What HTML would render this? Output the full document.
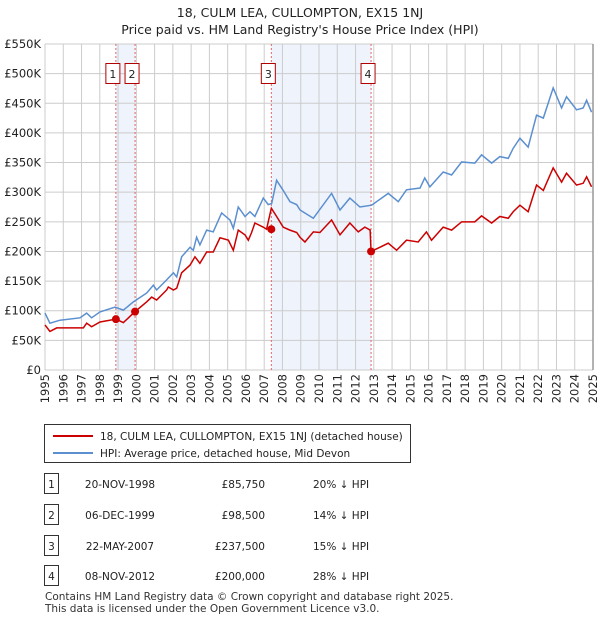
<!DOCTYPE html>
<html><head><meta charset="utf-8"><style>
body{margin:0;background:#fff;font-family:"Liberation Sans","DejaVu Sans",sans-serif;}
svg text{font-family:"DejaVu Sans","Liberation Sans",sans-serif;}
</style></head><body>
<svg id="c" width="600" height="620" viewBox="0 0 600 620" xmlns="http://www.w3.org/2000/svg">
<text x="300" y="17" text-anchor="middle" font-size="12.5" fill="#222">18, CULM LEA, CULLOMPTON, EX15 1NJ</text>
<text x="300" y="34" text-anchor="middle" font-size="12.5" fill="#222">Price paid vs. HM Land Registry's House Price Index (HPI)</text>
<g id="plot"></g>
<g>
<rect x="44.5" y="424.5" width="366" height="38" fill="#fff" stroke="#333"/>
<line x1="53" y1="436" x2="93" y2="436" stroke="#cc0000" stroke-width="2"/>
<text x="100" y="440" font-size="10.5" fill="#222">18, CULM LEA, CULLOMPTON, EX15 1NJ (detached house)</text>
<line x1="53" y1="453" x2="93" y2="453" stroke="#5b8fd0" stroke-width="2"/>
<text x="100" y="457" font-size="10.5" fill="#222">HPI: Average price, detached house, Mid Devon</text>
</g>
<g id="tbl"></g>
<text x="45" y="600" font-size="10.5" fill="#333">Contains HM Land Registry data © Crown copyright and database right 2025.</text>
<text x="45" y="612" font-size="10.5" fill="#333">This data is licensed under the Open Government Licence v3.0.</text>
</svg>
<script>
const yearTicks=[1995,1996,1997,1998,1999,2000,2001,2002,2003,2004,2005,2006,2007,2008,2009,2010,2011,2012,2013,2014,2015,2016,2017,2018,2019,2020,2021,2022,2023,2024,2025];
const valueTicks=[0,50,100,150,200,250,300,350,400,450,500,550];
const valueTickLabels=["£0","£50K","£100K","£150K","£200K","£250K","£300K","£350K","£400K","£450K","£500K","£550K"];
const hpiYears=[0,0.27,0.82,1.92,2.28,2.55,3.01,3.83,4.29,4.84,5.57,5.93,6.11,6.66,7.03,7.21,7.48,7.94,8.12,8.30,8.48,8.85,9.21,9.67,10.13,10.31,10.58,10.95,11.22,11.49,11.95,12.22,12.41,12.68,13.04,13.41,13.78,13.96,14.69,15.69,16.15,16.69,17.24,17.88,18.79,19.34,19.79,20.53,20.79,21.07,21.80,22.26,22.81,23.53,23.90,24.45,24.90,25.36,25.63,26.0,26.45,26.91,27.28,27.82,28.28,28.55,29.10,29.46,29.65,29.92];
const hpiValues=[96,79,84,88,96,88,98,106,101,115,130,143,135,152,164,157,191,207,202,224,211,236,233,265,253,239,275,259,267,259,290,279,281,320,303,284,279,270,256,298,270,290,275,278,298,284,304,307,324,309,334,329,351,349,363,349,360,357,374,391,376,430,425,476,442,461,439,442,455,435];
const ppYears=[0,0.27,0.64,2.1,2.28,2.55,3.01,3.88,4.29,4.93,5.57,5.84,6.11,6.66,6.75,7.03,7.21,7.48,7.94,8.21,8.48,8.85,9.21,9.58,10.04,10.31,10.58,10.95,11.13,11.31,11.49,11.95,12.13,12.39,12.68,13.04,13.41,13.78,13.96,14.23,14.69,15.05,15.69,16.15,16.69,17.15,17.51,17.80,17.85,18.33,18.79,19.25,19.79,20.43,20.88,21.16,21.80,22.26,22.81,23.53,23.90,24.45,24.90,25.36,25.63,26.0,26.45,26.91,27.28,27.82,28.28,28.55,29.10,29.46,29.65,29.92];
const ppValues=[76,65,71,71,79,73,81,85.75,80,98.5,115,123,118,135,140,135,138,164,177,191,180,199,199,223,219,202,236,228,219,232,248,241,237.5,273,259,241,236,232,224,216,233,232,253,228,248,233,241,236,200,207,214,202,219,216,233,219,241,236,250,250,260,248,259,256,267,278,267,312,303,341,317,332,312,315,326,309];
const saleYears=[1998.88,1999.93,2007.39,2012.85];
const saleValues=[85.75,98.5,237.5,200];
const saleLabels=["1","2","3","4"];
const saleDates=["20-NOV-1998","06-DEC-1999","22-MAY-2007","08-NOV-2012"];
const salePrices=["£85,750","£98,500","£237,500","£200,000"];
const saleHpi=["20% ↓ HPI","14% ↓ HPI","15% ↓ HPI","28% ↓ HPI"];

const NS="http://www.w3.org/2000/svg";
const X0=45,X1=593,Y0=370,Y1=44;
const xs=y=>X0+(y-1995)/30*(X1-X0);
const ys=v=>Y0-v/550*(Y0-Y1);
function mk(tag,attrs,parent){const e=document.createElementNS(NS,tag);for(const k in attrs)e.setAttribute(k,attrs[k]);parent.appendChild(e);return e;}
const P=document.getElementById('plot');
// shading
for(const [a,b] of [[0,1],[2,3]]){
 const r=mk('rect',{x:xs(saleYears[a]),y:Y1,width:xs(saleYears[b])-xs(saleYears[a]),height:Y0-Y1,fill:'#eef3fc'},P);
 
 
}
yearTicks.forEach(y=>{
 const l=mk('line',{x1:xs(y),x2:xs(y),y1:Y1,y2:Y0,stroke:'#cccccc','stroke-width':1},P);
 
 
 const t=mk('text',{x:0,y:0,transform:`translate(${xs(y)+4},${Y0+4}) rotate(-90)`,'text-anchor':'end','font-size':11.5,fill:'#222'},P);
 t.textContent=y;
 
 
});
valueTicks.forEach((v,i)=>{
 const l=mk('line',{x1:X0,x2:X1,y1:ys(v),y2:ys(v),stroke:'#cccccc','stroke-width':1},P);
 
 
 const t=mk('text',{x:X0-4,y:ys(v)+4,'text-anchor':'end','font-size':11.5,fill:'#222'},P);
 t.textContent=valueTickLabels[i];
 
 
});
const ax=mk('line',{x1:X1,x2:X1,y1:Y1,y2:Y0,stroke:'#999','stroke-width':1.5},P);


saleYears.forEach((y,i)=>{
 const l=mk('line',{x1:xs(y),x2:xs(y),y1:Y1,y2:Y0,stroke:'#e06666','stroke-width':1,'stroke-dasharray':'2,2'},P);
 
 
 const r=mk('rect',{x:xs(y)-10,y:63.5,width:14,height:20,fill:'#fff',stroke:'#b00000'},P);
 
 
 const t=mk('text',{x:xs(y)-3,y:78,'text-anchor':'middle','font-size':11,fill:'#222'},P);
 t.textContent=saleLabels[i];
 
 
});
const hp=mk('polyline',{points:hpiYears.map((y,i)=>xs(1995+y)+','+ys(hpiValues[i])).join(' '),fill:'none',stroke:'#5b8fd0','stroke-width':1.5},P);


const pp=mk('polyline',{points:ppYears.map((y,i)=>xs(1995+y)+','+ys(ppValues[i])).join(' '),fill:'none',stroke:'#cc0000','stroke-width':1.5},P);


saleYears.forEach((y,i)=>{
 const c=mk('circle',{cx:xs(y),cy:ys(saleValues[i]),r:4,fill:'#cc0000'},P);
 
 
});
const T=document.getElementById('tbl');
const rowY=[484,515,546,576];
saleLabels.forEach((s,i)=>{
 const y=rowY[i];
 const r=mk('rect',{x:44.5,y:y-10.5,width:14,height:20,fill:'#fff',stroke:'#333'},T);
 
 
 const cells=[[51.5,s,'middle'],[120,saleDates[i],'middle'],[265,salePrices[i],'end'],[313,saleHpi[i],'start']];
 cells.forEach(([x,txt,a])=>{
  const t=mk('text',{x:x,y:y+4,'text-anchor':a,'font-size':10.5,fill:'#222'},T);
  t.textContent=txt;
  
  
 });
});
</script>
</body></html>
